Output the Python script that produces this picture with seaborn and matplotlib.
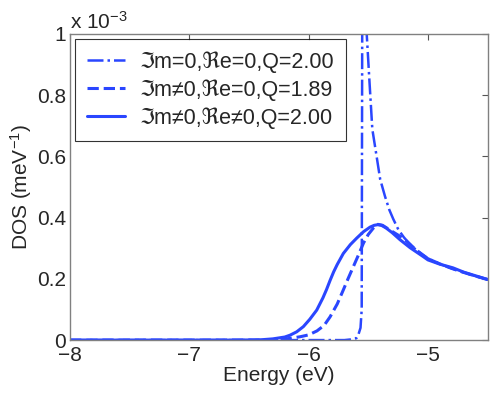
import matplotlib
matplotlib.use("Agg")
import matplotlib.pyplot as plt
import seaborn as sns
import pandas as pd

# DOS values in units of 1e-3 meV^-1
E_dd = [-8.0, -7.0, -6.5, -5.7, -5.65, -5.6, -5.585, -5.565, -5.555, -5.548, -5.52,
        -5.513, -5.491, -5.466, -5.43, -5.40, -5.36, -5.324, -5.29, -5.248, -5.2,
        -5.15, -5.1, -5.05, -5.0, -4.9, -4.8, -4.7, -4.6, -4.5]
D_dd = [0.0, 0.0, 0.0, 0.0, 0.002, 0.006, 0.015, 0.04, 0.1, 1.6, 1.4,
        1.0, 0.852, 0.689, 0.6, 0.525, 0.47, 0.426, 0.395, 0.361, 0.335,
        0.313, 0.295, 0.28, 0.267, 0.249, 0.234, 0.221, 0.209, 0.198]

E_da = [-8.0, -7.0, -6.4, -6.3, -6.2, -6.07, -6.0, -5.93, -5.87, -5.82, -5.76, -5.709,
        -5.67, -5.625, -5.58, -5.54, -5.5, -5.457, -5.42, -5.38, -5.3, -5.2,
        -5.1, -5.0, -4.9, -4.8, -4.7, -4.6, -4.5]
D_da = [0.0, 0.0, 0.0, 0.001, 0.003, 0.011, 0.017, 0.03, 0.048, 0.076, 0.118, 0.164,
        0.2, 0.24, 0.28, 0.317, 0.345, 0.366, 0.378, 0.375, 0.355, 0.331,
        0.295, 0.266, 0.249, 0.234, 0.221, 0.209, 0.198]

E_so = [-8.0, -7.0, -6.6, -6.4, -6.3, -6.2, -6.156, -6.1, -6.044, -5.99, -5.932,
        -5.88, -5.85, -5.82, -5.79, -5.76, -5.709, -5.65, -5.597, -5.54, -5.485, -5.45,
        -5.42, -5.39, -5.35, -5.3, -5.234, -5.15, -5.04, -5.0, -4.9, -4.79, -4.7, -4.6, -4.5]
D_so = [0.0, 0.0, 0.0, 0.001, 0.004, 0.01, 0.016, 0.027, 0.044, 0.068, 0.098,
        0.138, 0.165, 0.195, 0.223, 0.247, 0.283, 0.312, 0.333, 0.354, 0.369, 0.375,
        0.377, 0.375, 0.366, 0.351, 0.328, 0.302, 0.273, 0.262, 0.248, 0.236, 0.222, 0.21, 0.198]

labels = ["ℑm=0,ℜe=0,Q=2.00", "ℑm≠0,ℜe=0,Q=1.89", "ℑm≠0,ℜe≠0,Q=2.00"]
xticks = [-8, -7, -6, -5]
yticks = [0, 0.2, 0.4, 0.6, 0.8, 1]
ytick_labels = ["0", "0.2", "0.4", "0.6", "0.8", "1"]

sns.set_style("white")
plt.rcParams["font.family"] = ["Liberation Sans", "DejaVu Sans"]
plt.rcParams["mathtext.fontset"] = "custom"
plt.rcParams["mathtext.rm"] = "Liberation Sans"
plt.rcParams["mathtext.it"] = "Liberation Sans"

FS = 15
blue = "#2a46ff"
fig = plt.figure(figsize=(4.91, 3.95), dpi=100)
ax = fig.add_axes([0.1426, 0.139, 0.8504, 0.775])

df1 = pd.DataFrame({"E": E_dd, "D": D_dd})
df2 = pd.DataFrame({"E": E_da, "D": D_da})
df3 = pd.DataFrame({"E": E_so, "D": D_so})
sns.lineplot(data=df1, x="E", y="D", ax=ax, color=blue, lw=1.8, ls="-.", label=labels[0], sort=False)
sns.lineplot(data=df2, x="E", y="D", ax=ax, color=blue, lw=2.2, ls="--", label=labels[1], sort=False)
sns.lineplot(data=df3, x="E", y="D", ax=ax, color=blue, lw=2.2, ls="-", label=labels[2], sort=False)

ax.set_xlim(-8, -4.5)
ax.set_ylim(0, 1)
ax.set_xticks(xticks)
ax.set_xticklabels([f"\u2212{abs(t)}" for t in xticks])
ax.set_yticks(yticks)
ax.set_yticklabels(ytick_labels)
ax.tick_params(direction="in", top=True, right=True, length=4, width=0.8,
               color="#555555", labelsize=FS)
ax.tick_params(axis="x", pad=4)
ax.tick_params(axis="y", pad=3)
for s in ax.spines.values():
    s.set_color("#808080")
    s.set_linewidth(1.0)
ax.set_xlabel("Energy (eV)", fontsize=FS, labelpad=1)
ax.set_ylabel("DOS (meV$^{-1}$)", fontsize=FS, labelpad=2)
ax.text(0.0, 1.005, r"x 10$^{-3}$", transform=ax.transAxes, fontsize=FS, ha="left", va="bottom")

leg = ax.legend(loc="upper left", fontsize=15.5, frameon=True, fancybox=False,
                handlelength=1.75, handletextpad=0.7, labelspacing=0.3,
                borderpad=0.55, borderaxespad=0.25)
leg.get_frame().set_edgecolor("black")
leg.get_frame().set_linewidth(0.8)

fig.savefig("out.png", dpi=100)
